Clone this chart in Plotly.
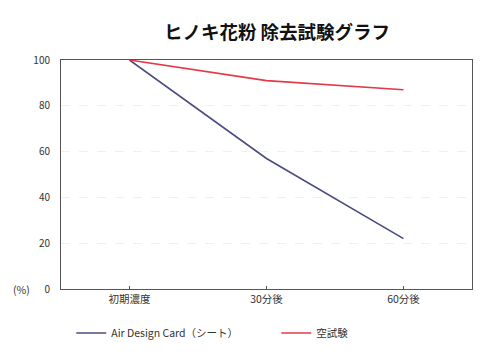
import plotly.graph_objects as go

categories = ["初期濃度", "30分後", "60分後"]
card_values = [100, 57, 22]
blank_values = [100, 91, 87]
series_names = ["Air Design Card（シート）", "空試験"]
y_ticks = [0, 20, 40, 60, 80, 100]

FONT = "Noto Sans CJK JP"

fig = go.Figure()
fig.add_trace(go.Scatter(x=categories, y=card_values, mode="lines", name=series_names[0],
                         line=dict(color="#4b4b80", width=1.6)))
fig.add_trace(go.Scatter(x=categories, y=blank_values, mode="lines", name=series_names[1],
                         line=dict(color="#e23a48", width=1.6)))

fig.update_layout(
    width=500, height=356,
    margin=dict(l=61, r=28, t=60, b=67, autoexpand=False),
    paper_bgcolor="white", plot_bgcolor="white",
    font=dict(family=FONT, size=10, color="#333333"),
    title=dict(text="<b>ヒノキ花粉 除去試験グラフ</b>", x=0.554, xanchor="center",
               y=1 - 33/356, yanchor="middle",
               font=dict(family=FONT, size=18.5, color="#111111")),
    showlegend=True,
    legend=dict(orientation="h", x=0.025, xanchor="left", y=-0.192, yanchor="middle",
                font=dict(family=FONT, size=10.5, color="#333333"),
                entrywidth=160, itemwidth=30, bgcolor="rgba(0,0,0,0)"),
)
fig.update_xaxes(type="category", range=[-0.5, 2.5], showgrid=False,
                 showline=True, linecolor="#555555", linewidth=1, mirror=True,
                 ticks="inside", ticklen=3, tickcolor="#555555",
                 tickfont=dict(size=10.5, color="#333333"), fixedrange=True)
fig.update_yaxes(range=[0, 100], tickvals=y_ticks, showgrid=True,
                 gridcolor="#f0f0f0", griddash="dash", gridwidth=1,
                 showline=True, linecolor="#555555", linewidth=1, mirror=True,
                 zeroline=False, ticks="", ticklabelstandoff=8,
                 tickfont=dict(size=10, color="#333333"), fixedrange=True)
fig.add_annotation(text="(%)", xref="paper", yref="paper", x=-0.07, y=0,
                   xanchor="right", yanchor="middle", showarrow=False,
                   font=dict(family=FONT, size=10.5, color="#333333"))

fig.write_html("out.html", config={"displayModeBar": False},
               post_script="document.body.style.margin='0';")
